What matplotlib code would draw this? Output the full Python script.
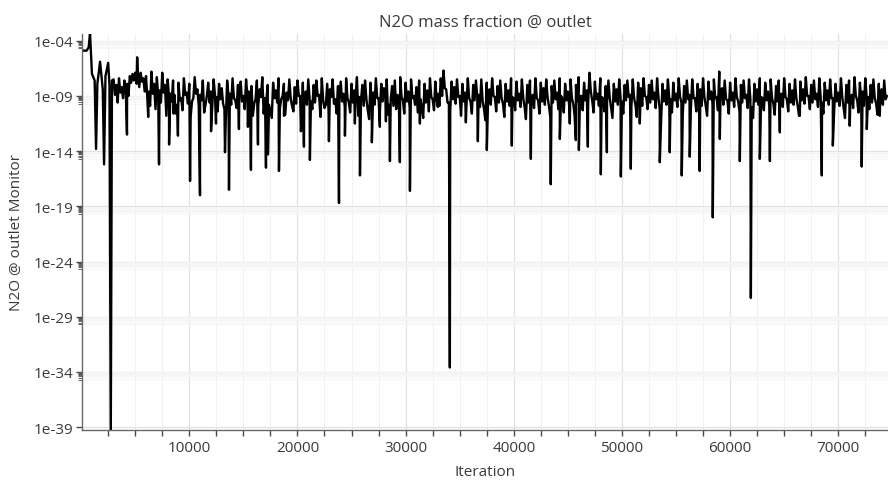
import numpy as np
import matplotlib
matplotlib.use("Agg")
import matplotlib.pyplot as plt
from matplotlib.ticker import FixedLocator, FixedFormatter, MultipleLocator, NullFormatter

# values are log10 of the N2O mass fraction
start_iter = [0, 250, 500, 700, 820, 1000, 1250, 1380, 1500, 1750, 2000, 2120, 2250, 2500, 2620, 2740, 2850]
start_exp = [-4.8, -4.9, -4.9, -4.6, -3.3, -7.0, -7.6, -13.8, -7.9, -5.9, -8.4, -15.2, -7.2, -6.0, -8.0, -40.0, -7.6]

# samples every 250 iterations from 3000 on (upper side of the band)
base_start = 3000
base_step = 250
base_exp = [
    -7.5, -8.0, -7.4, -8.2, -7.6, -7.9, -7.2, -7.0, -6.9, -7.1, -6.9, -7.4,
    -7.2, -8.6, -6.8, -7.9, -7.3, -8.5, -6.9, -8.0, -7.5, -8.8, -7.6, -10.6,
    -7.8, -9.2, -7.4, -8.7, -7.9, -9.5, -7.3, -8.4, -8.9, -7.6, -9.8, -7.8,
    -8.6, -7.5, -9.1, -7.9, -8.3, -10.2, -7.6, -8.8, -7.4, -9.4, -8.0, -7.7,
    -9.0, -7.5, -8.6, -8.1, -9.7, -7.6, -8.4, -7.3, -9.2, -8.0, -10.4, -7.8,
    -8.5, -7.4, -9.3, -7.9, -8.7, -7.5, -9.9, -8.2, -7.6, -9.0, -7.8, -8.6,
    -7.5, -9.5, -8.0, -7.6, -8.9, -7.4, -10.1, -7.9, -8.4, -7.5, -9.3, -8.1,
    -7.7, -8.8, -7.4, -9.6, -7.9, -8.5, -7.3, -9.1, -8.0, -7.6, -10.3, -7.8,
    -8.7, -7.4, -9.2, -7.9, -8.3, -7.5, -9.8, -8.1, -7.6, -8.9, -7.3, -9.4,
    -7.8, -8.6, -7.5, -9.0, -8.2, -7.6, -10.0, -7.9, -8.5, -7.4, -9.3, -7.7,
    -8.8, -7.4, -6.7, -8.4, -9.6, -7.7, -8.2, -7.5, -9.0, -7.9, -8.7, -7.4,
    -9.5, -8.0, -7.6, -8.9, -7.5, -10.2, -7.8, -8.4, -7.4, -9.1, -8.1, -7.6,
    -9.7, -7.9, -8.5, -7.4, -9.2, -7.7, -8.8, -7.5, -10.0, -8.0, -7.6, -8.9,
    -7.4, -9.4, -7.8, -8.3, -7.5, -9.9, -8.1, -7.6, -8.7, -7.4, -9.3, -7.9,
    -8.6, -7.5, -9.7, -8.0, -7.3, -9.0, -7.8, -8.5, -6.9, -9.4, -7.7, -8.8,
    -7.4, -9.2, -8.1, -7.6, -10.1, -7.9, -8.4, -7.5, -9.5, -8.0, -7.6, -8.9,
    -7.5, -9.8, -7.8, -8.3, -7.4, -9.1, -8.0, -7.6, -8.7, -7.4, -10.3, -7.9,
    -8.5, -7.5, -9.3, -7.8, -8.8, -7.4, -9.6, -8.1, -7.6, -8.9, -7.5, -9.2,
    -7.9, -8.4, -7.4, -9.9, -7.7, -8.6, -7.5, -9.1, -6.8, -8.3, -7.6, -9.4,
    -7.8, -8.7, -7.4, -9.5, -8.0, -7.6, -8.9, -7.5, -10.0, -7.9, -8.4, -7.4,
    -9.2, -7.8, -8.6, -7.5, -9.7, -8.1, -7.6, -8.8, -7.4, -9.3, -7.9, -8.5,
    -7.5, -9.9, -7.7, -8.4, -7.3, -9.0, -8.0, -7.6, -8.8, -7.4, -9.6, -7.8,
    -8.5, -7.5, -9.2, -7.9, -8.7, -7.4, -10.1, -8.0, -7.6, -8.9, -7.3, -9.4,
    -7.8, -8.6, -7.4, -9.1, -8.0, -7.5, -9.7, -7.9, -8.4, -7.6, -9.0,
]

# samples half way between the ones above (lower side of the band)
mid_start = 3125
mid_exp = [
    -8.9, -9.6, -8.7, -9.2, -8.4, -9.0, -7.8, -7.6, -7.9, -8.2, -7.7, -8.6,
    -9.3, -9.9, -8.8, -10.2, -9.0, -9.6, -8.7, -10.8, -9.1, -9.5, -8.9, -9.8,
    -9.4, -10.3, -8.9, -9.7, -10.9, -9.2, -8.8, -9.9, -9.4, -10.5, -9.0, -9.6,
    -9.9, -8.9, -10.4, -9.3, -9.7, -11.2, -9.0, -9.8, -9.2, -10.1, -8.8, -9.5,
    -10.2, -9.0, -9.7, -10.8, -9.3, -9.9, -9.1, -10.6, -9.4, -9.8, -11.0, -9.2,
    -9.6, -10.1, -9.0, -10.7, -9.4, -9.2, -10.4, -9.7, -9.0, -11.3, -9.5, -9.8,
    -9.3, -10.2, -9.6, -9.0, -10.9, -9.4, -9.8, -10.3, -9.1, -9.7, -10.6, -9.2,
    -9.5, -10.0, -9.2, -10.5, -9.6, -9.1, -10.8, -9.4, -9.9, -9.3, -11.1, -9.6,
    -9.8, -9.2, -10.4, -9.5, -9.0, -10.7, -9.3, -9.9, -10.2, -9.4, -9.1, -10.6,
    -9.5, -10.1, -9.2, -9.8, -10.5, -9.3, -11.0, -9.6, -9.9, -9.1, -10.3, -9.4,
    -9.9, -9.0, -8.3, -9.6, -10.4, -9.3, -9.7, -9.1, -10.8, -9.5, -9.9, -9.2,
    -10.6, -9.4, -9.1, -10.0, -9.5, -11.2, -9.3, -9.8, -9.0, -10.4, -9.6, -9.2,
    -10.9, -9.5, -9.9, -9.1, -10.3, -9.4, -10.0, -9.2, -11.1, -9.6, -9.3, -10.1,
    -9.2, -10.6, -9.5, -9.8, -9.1, -10.9, -9.6, -9.3, -10.2, -9.0, -10.5, -9.4,
    -9.9, -9.2, -10.8, -9.5, -9.0, -10.3, -9.4, -9.7, -8.6, -10.5, -9.3, -9.9,
    -9.1, -10.4, -9.6, -9.2, -11.0, -9.5, -9.8, -9.2, -10.6, -9.4, -9.1, -10.0,
    -9.2, -10.9, -9.4, -9.9, -9.0, -10.2, -9.6, -9.3, -10.1, -9.1, -11.2, -9.5,
    -9.8, -9.2, -10.5, -9.4, -10.0, -9.1, -10.7, -9.6, -9.3, -10.2, -9.2, -10.4,
    -9.5, -9.9, -9.1, -10.8, -9.3, -9.7, -9.2, -10.3, -8.5, -9.8, -9.3, -10.6,
    -9.4, -10.0, -9.1, -10.5, -9.6, -9.2, -10.1, -9.3, -11.0, -9.5, -9.8, -9.1,
    -10.3, -9.4, -9.9, -9.2, -10.7, -9.5, -9.3, -10.0, -9.1, -10.4, -9.6, -9.8,
    -9.2, -10.8, -9.4, -9.7, -9.0, -10.2, -9.6, -9.3, -10.0, -9.1, -10.6, -9.4,
    -9.8, -9.2, -10.3, -9.5, -9.9, -9.1, -11.0, -9.6, -9.3, -10.1, -9.0, -10.5,
    -9.4, -9.9, -9.1, -10.2, -9.6, -9.2, -10.7, -9.5, -9.8, -9.3,
]

# single-sample drops and peaks
spike_iter = [4240, 5180, 6200, 7200, 8130, 8550, 8950, 10070,
              10990, 12010, 12470, 13300, 13670, 14590, 15420, 15700, 16350, 17090, 17270,
              18290, 18750, 20320, 20600, 21150, 22910, 23840, 24390, 25310, 25780, 26880,
              27620, 28180, 28550, 29470, 30400, 31320, 32150, 32980, 34090, 35570, 36680,
              37510, 39820, 41580, 43420, 44260, 45180, 45740, 46020, 46850, 48050, 48610,
              49900, 50820, 51650, 53500, 54420, 55530, 56270, 57190, 58400, 59050, 60900,
              61920, 62750, 63680, 64600, 66450, 68480, 69500, 71060, 72170, 72640, 73840]
spike_exp = [-12.5, -5.5, -10.9, -15.2, -13.4, -10.6, -12.6, -16.7,
             -18.0, -12.2, -11.5, -14.1, -17.5, -12.0, -11.8, -15.7, -13.4, -15.5, -14.3,
             -15.8, -10.8, -12.2, -13.6, -14.8, -13.1, -18.7, -12.6, -11.5, -16.2, -13.2,
             -11.8, -11.3, -14.9, -15.0, -17.6, -11.5, -10.4, -10.0, -33.6, -11.4, -13.1,
             -13.9, -13.5, -14.7, -17.0, -12.9, -11.5, -13.0, -13.9, -13.6, -16.1, -14.1,
             -16.3, -15.6, -11.5, -15.0, -14.1, -16.2, -14.5, -15.8, -20.0, -12.9, -14.9,
             -27.3, -14.7, -14.9, -12.3, -10.8, -16.2, -13.5, -11.7, -15.4, -12.0, -10.8]

major_exp = [-4, -9, -14, -19, -24, -29, -34, -39]
major_labels = ["1e-04", "1e-09", "1e-14", "1e-19", "1e-24", "1e-29", "1e-34", "1e-39"]
x_ticks = [10000, 20000, 30000, 40000, 50000, 60000, 70000]

base_iter = base_start + base_step * np.arange(len(base_exp))
mid_iter = mid_start + base_step * np.arange(len(mid_exp))
it = np.concatenate([start_iter, base_iter, mid_iter, spike_iter]).astype(float)
ex = np.concatenate([start_exp, base_exp, mid_exp, spike_exp])
order = np.argsort(it, kind="stable")
it = it[order]
val = 10.0 ** ex[order]

plt.rcParams['font.family'] = ['Open Sans', 'DejaVu Sans']
txt = '#3a3a3a'

fig = plt.figure(figsize=(8.88, 4.81), dpi=100)
ax = fig.add_axes([82 / 888, 1 - 431 / 481, 1 - 82 / 888, (431 - 35) / 481])

ax.plot(it, val, color='black', lw=1.7)

ax.set_yscale('log')
ax.set_xlim(80, 74600)
ax.set_ylim(10 ** -39.26, 10 ** -3.39)

major_y = [10.0 ** m for m in major_exp]
minor_y = [s * 10.0 ** (m - 1) for m in major_exp[:-1] for s in range(2, 10)]
ax.yaxis.set_major_locator(FixedLocator(major_y))
ax.yaxis.set_major_formatter(FixedFormatter(major_labels))
ax.yaxis.set_minor_locator(FixedLocator(minor_y))
ax.yaxis.set_minor_formatter(NullFormatter())

ax.xaxis.set_major_locator(FixedLocator(x_ticks))
ax.xaxis.set_minor_locator(MultipleLocator(2500))

ax.grid(True, which='major', color='#e2e2e2', lw=0.9)
ax.grid(True, which='minor', axis='x', color='#f0f0f0', lw=0.7)
ax.grid(True, which='minor', axis='y', color='#f5f5f5', lw=0.6)
ax.set_axisbelow(True)

for side in ['top', 'right']:
    ax.spines[side].set_visible(False)
for side in ['left', 'bottom']:
    ax.spines[side].set_color('#6a6a6a')
    ax.spines[side].set_linewidth(1.0)

ax.tick_params(which='major', length=4, width=1, color='#4a4a4a', labelsize=11, labelcolor=txt, pad=2)
ax.tick_params(axis='y', which='minor', length=3, width=0.6, color='#4a4a4a')
ax.tick_params(axis='x', which='minor', length=4, width=1, color='#4a4a4a')
ax.tick_params(axis='x', which='major', pad=3)

ax.set_title("N2O mass fraction @ outlet", fontsize=12, color=txt, pad=6)
ax.set_xlabel("Iteration", fontsize=11, color=txt, labelpad=7)
ax.set_ylabel("N2O @ outlet Monitor", fontsize=11, color=txt, labelpad=7)

fig.savefig("out.png", dpi=100)
